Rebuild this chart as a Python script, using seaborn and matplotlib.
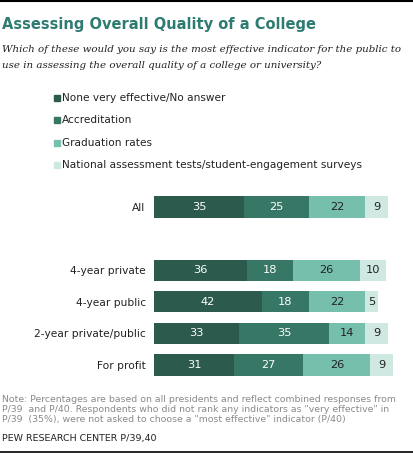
import matplotlib
matplotlib.use("Agg")
import matplotlib.pyplot as plt
import seaborn as sns
import pandas as pd
import numpy as np
from matplotlib.patches import Rectangle
from matplotlib.lines import Line2D

categories = ["All", "4-year private", "4-year public", "2-year private/public", "For profit"]
none_effective = [35, 36, 42, 33, 31]
accreditation = [25, 18, 18, 35, 27]
graduation = [22, 26, 22, 14, 26]
national = [9, 10, 5, 9, 9]
series_names = ["None very effective/No answer", "Accreditation", "Graduation rates",
                "National assessment tests/student-engagement surveys"]
colors = ["#2c5b4e", "#377766", "#76bfad", "#d0e8e2"]
text_colors = ["white", "white", "#222222", "#222222"]

sns.set_theme(style="white")
plt.rcParams['font.family'] = ['DejaVu Sans']

W, H = 414, 454
fig = plt.figure(figsize=(W / 100, H / 100), dpi=100)

def fx(px):
    return px / W

def fy(py):
    return 1 - py / H

# axes placement
left_px, scale = 154, 2.575
slot = 31.6
top_center, n_slots = 207, 6
ax_top = top_center - slot / 2
ax_bot = ax_top + slot * n_slots
ax = fig.add_axes([fx(left_px), fy(ax_bot), 100 * scale / W, (ax_bot - ax_top) / H])

order = ["All", " ", "4-year private", "4-year public", "2-year private/public", "For profit"]
series = [none_effective, accreditation, graduation, national]
cum = np.zeros(len(categories))
cums = []
for s in series:
    cum = cum + np.array(s)
    cums.append(cum.copy())

for i in range(3, -1, -1):
    d = pd.DataFrame({"cat": categories, "val": cums[i]})
    sns.barplot(data=d, x="val", y="cat", order=order, color=colors[i],
                width=0.67, saturation=1, ax=ax, linewidth=0, orient="h")

# value labels
for j, c in enumerate(categories):
    ypos = order.index(c)
    start = 0
    for i, s in enumerate(series):
        v = s[j]
        ax.text(start + v / 2, ypos, f"{v}", ha="center", va="center",
                color=text_colors[i], fontsize=8.2)
        start += v

ax.set_xlim(0, 100)
ax.set_ylim(n_slots - 0.5, -0.5)
ax.set_xlabel("")
ax.set_ylabel("")
ax.set_xticks([])
ax.tick_params(axis="y", length=0, pad=6, labelsize=7.7, labelcolor="#222222")
for sp in ax.spines.values():
    sp.set_visible(False)
ax.patch.set_alpha(0)

# top and bottom rules
fig.add_artist(Line2D([0, 1], [fy(1), fy(1)], color="black", lw=1.5))
fig.add_artist(Line2D([0, 1], [fy(452), fy(452)], color="black", lw=1.2))

# title and subtitle
fig.text(fx(2), fy(25), "Assessing Overall Quality of a College", fontsize=10.5,
         fontweight="bold", color="#2e7b72", ha="left", va="center")
fig.text(fx(2), fy(49), "Which of these would you say is the most effective indicator for the public to",
         fontsize=7.4, style="italic", family="DejaVu Serif", color="#222222", ha="left", va="center")
fig.text(fx(2), fy(65), "use in assessing the overall quality of a college or university?",
         fontsize=7.4, style="italic", family="DejaVu Serif", color="#222222", ha="left", va="center")

# legend
leg_y = [98, 120, 143, 165]
for name, col, yy in zip(series_names, colors, leg_y):
    fig.add_artist(Rectangle((fx(54), fy(yy + 3)), 6 / W, 6 / H, color=col,
                             transform=fig.transFigure))
    fig.text(fx(62), fy(yy), name, fontsize=7.6, color="#222222", ha="left", va="center")

# note and source
note = ("Note: Percentages are based on all presidents and reflect combined responses from\n"
        "P/39  and P/40. Respondents who did not rank any indicators as \"very effective\" in\n"
        "P/39  (35%), were not asked to choose a \"most effective\" indicator (P/40)")
fig.text(fx(2), fy(395), note, fontsize=6.75, color="#8a8a8a", ha="left", va="top",
         linespacing=1.12)
fig.text(fx(2), fy(439), "PEW RESEARCH CENTER P/39,40", fontsize=6.8, color="#222222",
         ha="left", va="center")

fig.savefig("out.png", dpi=100)
